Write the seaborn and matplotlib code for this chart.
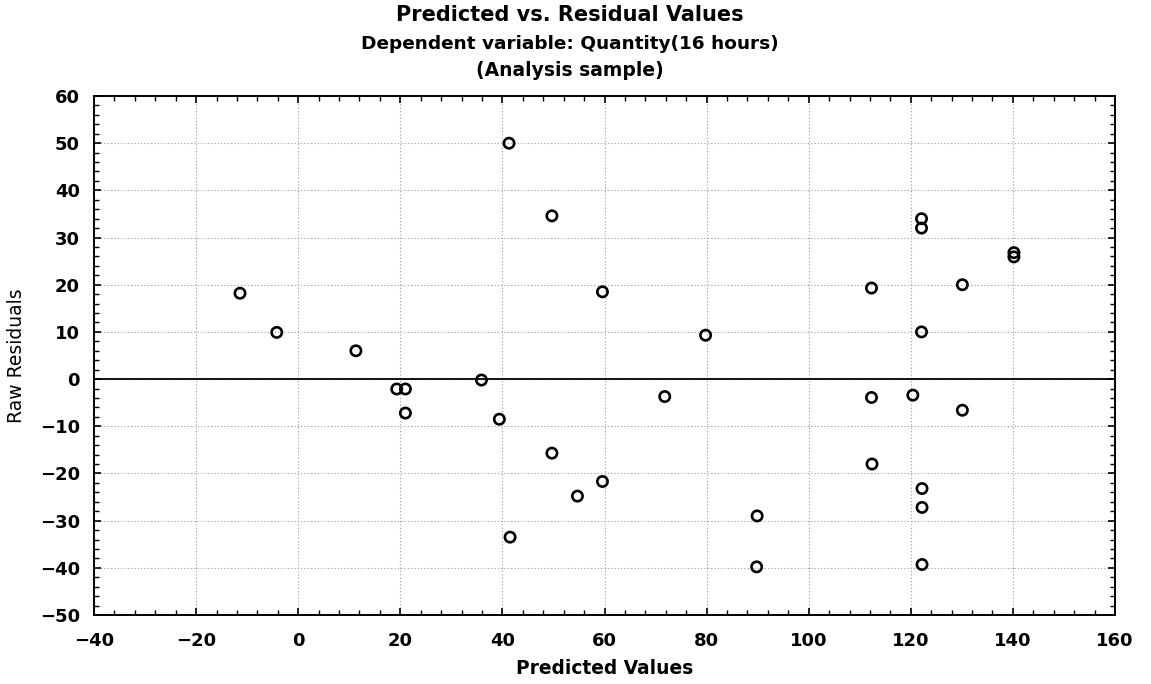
import matplotlib
matplotlib.use("Agg")
import matplotlib.pyplot as plt
from matplotlib.ticker import MultipleLocator
import seaborn as sns
import pandas as pd

# 予測値と残差
predicted = [-11.4, -4.2, 11.3, 19.3, 21.0, 21.0, 35.9, 39.4, 41.3, 41.5,
             49.7, 49.7, 54.7, 59.6, 59.6, 71.8, 79.8, 89.9, 89.8,
             112.3, 112.3, 112.4, 120.4, 122.1, 122.1, 122.1, 122.2, 122.2, 122.2,
             130.1, 130.1, 140.2, 140.2]
residuals = [18.2, 9.9, 6.0, -2.1, -2.1, -7.2, -0.2, -8.5, 50.0, -33.5,
             34.6, -15.7, -24.8, 18.5, -21.7, -3.7, 9.3, -29.0, -39.8,
             19.3, -3.9, -18.0, -3.4, 34.0, 32.0, 10.0, -23.2, -27.2, -39.3,
             20.0, -6.6, 26.8, 25.9]

title_lines = ["Predicted vs. Residual Values",
               "Dependent variable: Quantity(16 hours)",
               "(Analysis sample)"]

df = pd.DataFrame({"pred": predicted, "resid": residuals})

sns.set_style("ticks")
plt.rcParams['font.family'] = ['DejaVu Sans']
plt.rcParams['text.color'] = 'black'
plt.rcParams['axes.labelcolor'] = 'black'
plt.rcParams['xtick.color'] = 'black'
plt.rcParams['ytick.color'] = 'black'

fig = plt.figure(figsize=(11.51, 6.84), dpi=100)
ax = fig.add_axes([94 / 1151, 1 - 615 / 684, (1115 - 94) / 1151, (615 - 96) / 684])

sns.scatterplot(data=df, x="pred", y="resid", ax=ax, marker="o",
                facecolor="none", edgecolor="black", linewidth=1.9, s=55, zorder=3)

# 残差ゼロの基準線
ax.axhline(0, color="black", lw=1.3, zorder=2)

ax.set_xlim(-40, 160)
ax.set_ylim(-50, 60)
ax.xaxis.set_major_locator(MultipleLocator(20))
ax.xaxis.set_minor_locator(MultipleLocator(4))
ax.yaxis.set_major_locator(MultipleLocator(10))
ax.yaxis.set_minor_locator(MultipleLocator(2))

ax.grid(True, which="major", color="#9a9a9a", linestyle=(0, (1, 2)), linewidth=0.8)
ax.set_axisbelow(True)

ax.tick_params(which="both", direction="in", top=True, right=True, color="black")
ax.tick_params(which="major", length=5, width=1.2, labelsize=13)
ax.tick_params(which="minor", length=3.5, width=1.0)
ax.tick_params(axis="x", pad=12)
ax.tick_params(axis="y", pad=10)
for lab in ax.get_xticklabels() + ax.get_yticklabels():
    lab.set_fontweight("bold")

for sp in ax.spines.values():
    sp.set_linewidth(1.4)
    sp.set_color("black")

ax.set_xlabel("Predicted Values", fontsize=13.4, fontweight="bold", va="center")
ax.set_ylabel("Raw Residuals", fontsize=13.5, va="center")
ax.xaxis.set_label_coords(0.5, (615 - 669) / 519)
ax.yaxis.set_label_coords((17 - 94) / 1021, 0.5)

for txt, ypx, fs in zip(title_lines, [15, 44, 70], [15, 13.3, 13.5]):
    fig.text(570 / 1151, 1 - ypx / 684, txt, ha="center", va="center",
             fontsize=fs, fontweight="bold")

fig.savefig("out.png", dpi=100)
